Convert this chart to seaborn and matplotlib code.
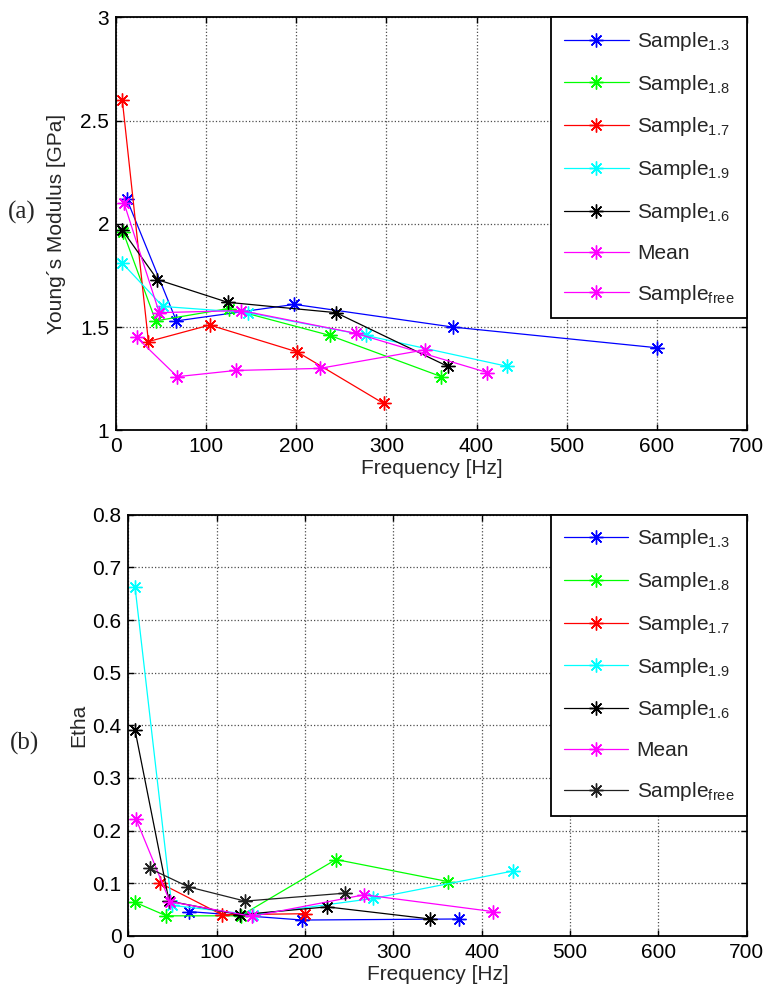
import numpy as np
import pandas as pd
import matplotlib
matplotlib.use("Agg")
import matplotlib.pyplot as plt
import seaborn as sns

# ---- Young's modulus vs frequency (panel a) ----
e13_f = [12, 67, 198, 374, 600]
e13_v = [2.12, 1.53, 1.61, 1.50, 1.40]
e18_f = [8, 44, 125, 237, 361]
e18_v = [1.96, 1.53, 1.59, 1.46, 1.26]
e17_f = [7, 36, 104, 201, 297]
e17_v = [2.60, 1.43, 1.51, 1.38, 1.13]
e19_f = [7, 52, 146, 277, 434]
e19_v = [1.81, 1.60, 1.57, 1.46, 1.31]
e16_f = [7, 46, 124, 244, 368]
e16_v = [1.97, 1.73, 1.62, 1.57, 1.31]
emean_f = [9, 48, 139, 266, 412]
emean_v = [2.10, 1.57, 1.58, 1.47, 1.28]
efree_f = [23, 68, 133, 226, 343]
efree_v = [1.45, 1.26, 1.29, 1.30, 1.39]

# ---- Loss factor vs frequency (panel b) ----
n13_f = [69, 197, 374]
n13_v = [0.046, 0.030, 0.032]
n18_f = [7, 43, 127, 235, 362]
n18_v = [0.064, 0.038, 0.038, 0.145, 0.103]
n17_f = [36, 106, 200]
n17_v = [0.100, 0.040, 0.042]
n19_f = [7.5, 49, 141, 277, 435]
n19_v = [0.663, 0.058, 0.040, 0.071, 0.123]
n16_f = [7.5, 46, 126, 225, 342]
n16_v = [0.391, 0.066, 0.040, 0.055, 0.032]
nmean_f = [8.6, 47, 140, 267, 413]
nmean_v = [0.222, 0.065, 0.037, 0.078, 0.046]
nfree_f = [24, 68, 132, 245]
nfree_v = [0.128, 0.093, 0.066, 0.081]

labels = [r"Sample$_{1.3}$", r"Sample$_{1.8}$", r"Sample$_{1.7}$",
          r"Sample$_{1.9}$", r"Sample$_{1.6}$", "Mean", r"Sample$_{\mathrm{free}}$"]
x_ticks = [0, 100, 200, 300, 400, 500, 600, 700]
e_ticks = [1, 1.5, 2, 2.5, 3]
n_ticks = [0, 0.1, 0.2, 0.3, 0.4, 0.5, 0.6, 0.7, 0.8]

sns.set_theme(style="white")
plt.rcParams["font.family"] = ["Liberation Sans", "DejaVu Sans"]
plt.rcParams["mathtext.fontset"] = "custom"
plt.rcParams["mathtext.rm"] = "Liberation Sans"
plt.rcParams["mathtext.it"] = "Liberation Sans"
plt.rcParams["mathtext.bf"] = "Liberation Sans"

FS = 15
ASTER = (8, 2, 0)

fig = plt.figure(figsize=(7.67, 9.98), dpi=100)
ax1 = fig.add_axes([0.1512, 0.5688, 0.8226, 0.4138])
ax2 = fig.add_axes([0.1674, 0.0623, 0.8060, 0.4219])


def draw(ax, series, colors):
    for (f, v), c, lab in zip(series, colors, labels):
        df = pd.DataFrame({"f": f, "v": v})
        sns.lineplot(data=df, x="f", y="v", ax=ax, color=c, marker=ASTER,
                     markersize=10, markeredgewidth=1.0, markeredgecolor=c,
                     markerfacecolor=c, linewidth=0.9,
                     estimator=None, sort=False, label=lab)


def style(ax, yticks, ylim, ylabel, labelpad):
    ax.set_xlim(0, 700)
    ax.set_ylim(*ylim)
    ax.set_xticks(x_ticks)
    ax.set_yticks(yticks)
    ax.set_yticklabels([f"{t:g}" for t in yticks])
    ax.grid(True, color="0.3", linestyle=":", linewidth=0.9)
    ax.tick_params(direction="in", length=4, width=1, labelsize=FS,
                   top=True, right=True, bottom=True, left=True, colors="black",
                   pad=5)
    for sp in ax.spines.values():
        sp.set_color("black")
        sp.set_linewidth(1.3)
        sp.set_visible(True)
    ax.set_xlabel("Frequency [Hz]", fontsize=FS, labelpad=2)
    ax.set_ylabel(ylabel, fontsize=FS, labelpad=labelpad)
    leg = ax.legend(loc="upper right", fontsize=FS, frameon=True, fancybox=False,
                    edgecolor="black", framealpha=1, borderaxespad=0,
                    handlelength=3.1, handletextpad=0.4, labelspacing=0.95,
                    borderpad=0.6)
    leg.get_frame().set_linewidth(1.3)


draw(ax1,
     [(e13_f, e13_v), (e18_f, e18_v), (e17_f, e17_v), (e19_f, e19_v),
      (e16_f, e16_v), (emean_f, emean_v), (efree_f, efree_v)],
     ["#0000ff", "#00ff00", "#ff0000", "#00ffff", "#000000", "#ff00ff", "#ff00ff"])
style(ax1, e_ticks, (1, 3), "Young´s Modulus [GPa]", 10)

draw(ax2,
     [(n13_f, n13_v), (n18_f, n18_v), (n17_f, n17_v), (n19_f, n19_v),
      (n16_f, n16_v), (nmean_f, nmean_v), (nfree_f, nfree_v)],
     ["#0000ff", "#00ff00", "#ff0000", "#00ffff", "#000000", "#ff00ff", "#202020"])
style(ax2, n_ticks, (0, 0.8), "Etha", 3)

fig.text(0.029, 1 - 212 / 998, "(a)", fontsize=18, family="Liberation Serif",
         ha="center", va="center")
fig.text(0.032, 1 - 743 / 998, "(b)", fontsize=18, family="Liberation Serif",
         ha="center", va="center")

fig.savefig("out.png", dpi=100)
